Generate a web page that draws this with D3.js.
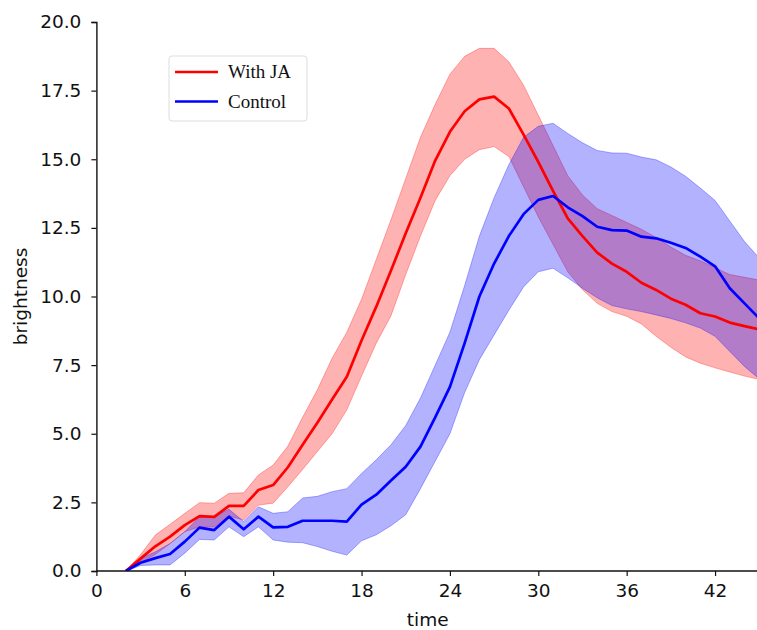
<!DOCTYPE html>
<html>
<head>
<meta charset="utf-8">
<script src="https://cdn.jsdelivr.net/npm/d3@7"></script>
<style>
  html, body { margin: 0; padding: 0; background: #fff; }
  svg { display: block; }
</style>
</head>
<body>
<svg id="chart" width="757" height="630"></svg>
<script>
// Sampling times
const times = d3.range(2, 46);

// With JA: mean and band (lower / upper)
const jaMean = [0, 0.45, 0.9, 1.25, 1.67, 2.0, 1.97, 2.37, 2.37, 2.95, 3.13, 3.78, 4.6, 5.4, 6.25, 7.08,
  8.4, 9.63, 10.95, 12.3, 13.6, 14.95, 16.0, 16.75, 17.18, 17.28, 16.85, 15.9, 14.9, 13.85, 12.85,
  12.2, 11.6, 11.2, 10.9, 10.5, 10.24, 9.92, 9.7, 9.39, 9.27, 9.05, 8.92, 8.8];
const jaUpper = [0, 0.6, 1.31, 1.7, 2.1, 2.49, 2.47, 2.83, 2.85, 3.5, 3.86, 4.55, 5.6, 6.6, 7.75, 8.7,
  9.9, 11.35, 12.8, 14.3, 15.8, 17.0, 18.1, 18.75, 19.04, 19.04, 18.55, 17.7, 16.6, 15.5, 14.4,
  13.7, 13.2, 12.95, 12.7, 12.45, 12.15, 11.8, 11.5, 11.3, 11.05, 10.8, 10.7, 10.6];
const jaLower = [0, 0.3, 0.6, 1.0, 1.43, 1.61, 1.6, 2.0, 1.86, 2.4, 2.47, 3.07, 3.7, 4.35, 5.0, 5.87,
  7.1, 8.3, 9.3, 10.8, 12.2, 13.5, 14.4, 15.0, 15.35, 15.46, 15.1, 14.0, 12.9, 11.9, 10.9,
  10.25, 9.75, 9.45, 9.28, 9.0, 8.55, 8.15, 7.8, 7.57, 7.4, 7.25, 7.1, 6.98];

// Control: mean and band (lower / upper)
const ctrlMean = [0, 0.3, 0.47, 0.62, 1.07, 1.58, 1.49, 1.98, 1.52, 1.98, 1.59, 1.61, 1.83, 1.83, 1.83, 1.8,
  2.42, 2.78, 3.3, 3.8, 4.53, 5.6, 6.71, 8.3, 10.0, 11.2, 12.2, 13.0, 13.52, 13.66, 13.25,
  12.93, 12.54, 12.42, 12.4, 12.18, 12.12, 11.96, 11.77, 11.45, 11.1, 10.3, 9.75, 9.2];
const ctrlUpper = [0, 0.45, 0.7, 1.0, 1.43, 1.98, 1.98, 2.25, 1.8, 2.34, 2.1, 2.16, 2.66, 2.72, 2.89, 3.0,
  3.55, 4.05, 4.6, 5.3, 6.3, 7.5, 8.7, 10.4, 12.2, 13.6, 14.8, 15.8, 16.2, 16.31, 15.94,
  15.6, 15.32, 15.23, 15.22, 15.08, 14.98, 14.72, 14.38, 13.95, 13.5, 12.75, 12.0, 11.4];
const ctrlLower = [0, 0.2, 0.22, 0.22, 0.65, 1.15, 1.13, 1.61, 1.25, 1.61, 1.13, 1.05, 1.03, 0.89, 0.72, 0.58,
  1.1, 1.32, 1.65, 2.05, 3.0, 4.0, 5.0, 6.5, 7.7, 8.6, 9.5, 10.35, 10.9, 11.03, 10.68,
  10.3, 9.95, 9.67, 9.55, 9.45, 9.33, 9.2, 9.04, 8.85, 8.55, 8.0, 7.45, 7.0];

const xTicks = [0, 6, 12, 18, 24, 30, 36, 42];
const yTicks = [0, 2.5, 5, 7.5, 10, 12.5, 15, 17.5, 20];

const seriesNames = ["With JA", "Control"];
const seriesColors = ["#ff0000", "#0000ff"];

const svg = d3.select("#chart");
const W = 757;
const plotLeft = 96.4, plotBottom = 571, plotTop = 22;

const x = d3.scaleLinear().domain([0, 45]).range([plotLeft, plotLeft + 45 * 14.73]);
const y = d3.scaleLinear().domain([0, 20]).range([plotBottom, plotTop]);

const series = [
  { mean: jaMean, lo: jaLower, hi: jaUpper, color: seriesColors[0] },
  { mean: ctrlMean, lo: ctrlLower, hi: ctrlUpper, color: seriesColors[1] }
];

svg.append("defs").append("clipPath").attr("id", "plotclip")
  .append("rect").attr("x", plotLeft).attr("y", 0).attr("width", W - plotLeft).attr("height", plotBottom);

const plot = svg.append("g").attr("clip-path", "url(#plotclip)");

const area = d3.area()
  .x((d, i) => x(times[i]))
  .y0(d => y(d[0]))
  .y1(d => y(d[1]));
const line = d3.line()
  .x((d, i) => x(times[i]))
  .y(d => y(d));

// Shaded bands first, then the mean lines on top
series.forEach(s => {
  const band = times.map((t, i) => [s.lo[i], s.hi[i]]);
  plot.append("path")
    .datum(band)
    .attr("d", area)
    .attr("fill", s.color)
    .attr("fill-opacity", 0.3)
    .attr("stroke", s.color)
    .attr("stroke-opacity", 0.3)
    .attr("stroke-width", 1);
});
series.forEach(s => {
  plot.append("path")
    .datum(s.mean)
    .attr("d", line)
    .attr("fill", "none")
    .attr("stroke", s.color)
    .attr("stroke-width", 2.7)
    .attr("stroke-linejoin", "round");
});

// Axes
const tickFont = "DejaVu Sans, sans-serif";
const xAxis = svg.append("g")
  .attr("transform", `translate(0,${plotBottom})`)
  .call(d3.axisBottom(x).tickValues(xTicks).tickSize(5).tickPadding(8).tickFormat(d3.format("d")));
xAxis.select(".domain").attr("d", `M${plotLeft},0H${W}`);

const yAxis = svg.append("g")
  .attr("transform", `translate(${plotLeft},0)`)
  .call(d3.axisLeft(y).tickValues(yTicks).tickSize(5).tickPadding(10).tickFormat(d3.format(".1f")));

[xAxis, yAxis].forEach(g => {
  g.selectAll("text").attr("font-family", tickFont).attr("font-size", 18.5).attr("fill", "#111");
  g.selectAll("line").attr("stroke", "#111").attr("stroke-width", 1.2);
  g.select(".domain").attr("stroke", "#111").attr("stroke-width", 1.4);
});

svg.append("text")
  .attr("x", (plotLeft + W) / 2 + 1)
  .attr("y", 626)
  .attr("text-anchor", "middle")
  .attr("font-family", tickFont)
  .attr("font-size", 18.5)
  .attr("fill", "#111")
  .text("time");

svg.append("text")
  .attr("transform", `translate(27,${(plotTop + plotBottom) / 2}) rotate(-90)`)
  .attr("text-anchor", "middle")
  .attr("font-family", tickFont)
  .attr("font-size", 18.5)
  .attr("fill", "#111")
  .text("brightness");

// Legend
const legend = svg.append("g");
legend.append("rect")
  .attr("x", 169).attr("y", 56).attr("width", 138).attr("height", 65)
  .attr("rx", 3)
  .attr("fill", "#fff").attr("fill-opacity", 0.8)
  .attr("stroke", "#dddddd").attr("stroke-width", 1);
seriesNames.forEach((name, i) => {
  const cy = 72 + i * 29.5;
  legend.append("line")
    .attr("x1", 175).attr("x2", 218).attr("y1", cy).attr("y2", cy)
    .attr("stroke", seriesColors[i]).attr("stroke-width", 2.7);
  legend.append("text")
    .attr("x", 228).attr("y", cy + 6)
    .attr("font-family", "Liberation Serif, Times New Roman, serif")
    .attr("font-size", 19)
    .attr("fill", "#111")
    .text(name);
});
</script>
</body>
</html>
